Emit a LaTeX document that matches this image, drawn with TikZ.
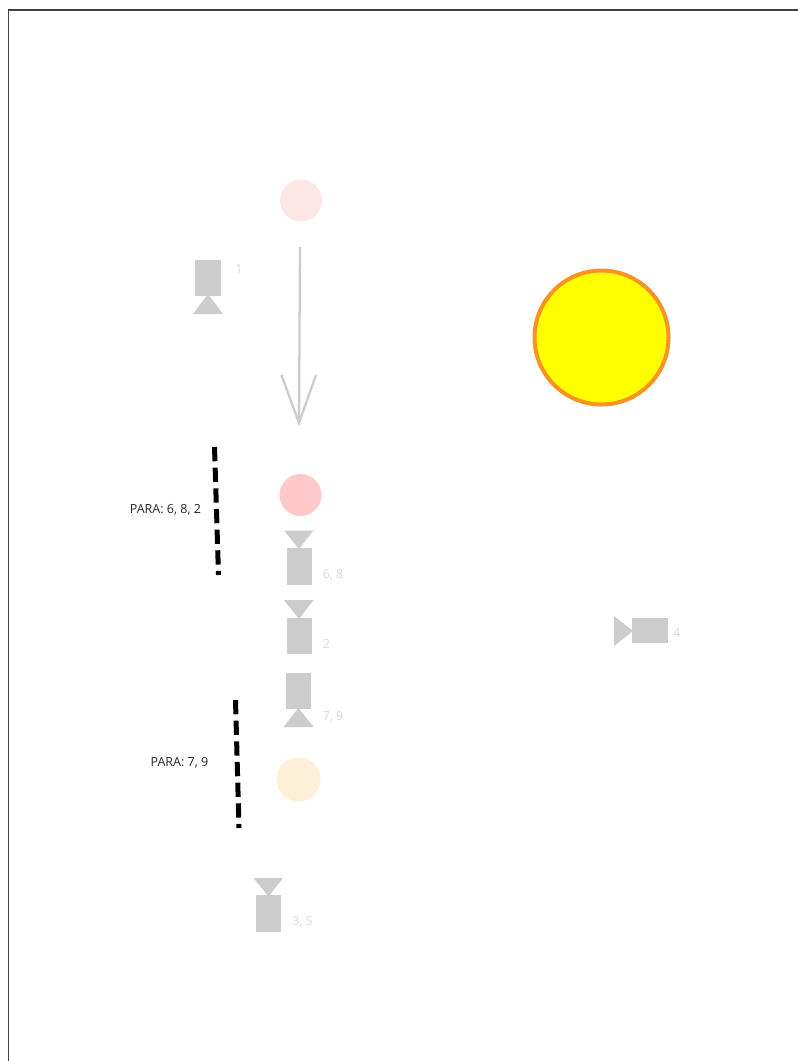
\documentclass[tikz,border=0pt]{standalone}
\usepackage{fontspec}
\setmainfont{Open Sans}
\usetikzlibrary{calc}
\definecolor{camgrey}{HTML}{CCCCCC}
\definecolor{lblgrey}{HTML}{DADADA}
\definecolor{sunline}{HTML}{F7931E}
\definecolor{sunfill}{RGB}{255,255,0}
\tikzset{
  camfill/.style={fill=camgrey,draw=none},
  numlabel/.style={text=lblgrey,font=\fontsize{9.3}{11}\selectfont,inner sep=0pt},
  paralabel/.style={text=black!85,font=\fontsize{9.4}{11}\selectfont,inner sep=0pt},
  ball/.style={circle,draw=none,inner sep=0pt,minimum size=#1},
  paraline/.style={line width=3.75pt,black,dash pattern=on 10.7pt off 4.8pt},
  motion/.style={draw=camgrey,line width=1.7pt,line join=miter}
}
\begin{document}
\begin{tikzpicture}[x=0.75pt,y=-0.75pt]
\useasboundingbox (0,0) rectangle (798,1061);
\fill[white] (0,0) rectangle (798,1061);
% page edge
\draw[line width=1pt,black!75] (8.5,1061) -- (8.5,10) -- (798,10);
% balls
\node[ball=31.5pt,fill={rgb,255:red,253;green,230;blue,230}] (ballA) at (301,200.5) {};
\node[ball=31.5pt,fill={rgb,255:red,255;green,201;blue,201}] (ballB) at (300.5,495) {};
\node[ball=33pt,fill={rgb,255:red,253;green,240;blue,216}] (ballC) at (298.5,779.5) {};
% sun
\node[circle,draw=sunline,fill=sunfill,line width=3pt,inner sep=0pt,minimum size=100.5pt] (sun) at (601.5,337.5) {};
% motion arrow
\coordinate (mstart) at (300,247);
\coordinate (mend) at (299,423);
\coordinate (mbarbL) at (281.5,375);
\coordinate (mbarbR) at (316,375);
\draw[motion] (mstart) -- (mend);
\draw[motion] (mbarbL) -- (mend) -- (mbarbR);
% cameras
\fill[camfill] (195,259.5) rectangle (221,295.5);
\fill[camfill] (208,294) -- (223,314) -- (193,314) -- cycle;
\fill[camfill] (286.5,548) rectangle (312,584.5);
\fill[camfill] (299,549) -- (284,530.5) -- (313.5,530.5) -- cycle;
\fill[camfill] (286.5,617.5) rectangle (312,654);
\fill[camfill] (299,619) -- (284,600) -- (313.5,600) -- cycle;
\fill[camfill] (286,673) rectangle (311,709);
\fill[camfill] (298.5,708) -- (313.5,727) -- (283.5,727) -- cycle;
\fill[camfill] (256,895) rectangle (281,932);
\fill[camfill] (268.5,896.5) -- (253.5,878) -- (283,878) -- cycle;
\fill[camfill] (632,618) rectangle (668,643);
\fill[camfill] (633,631) -- (614,616) -- (614,646) -- cycle;
% camera labels
\node[numlabel] (n1) at (239,269) {1};
\node[numlabel] (n68) at (333,575) {6, 8};
\node[numlabel] (n2) at (326.5,644) {2};
\node[numlabel] (n79) at (333,717) {7, 9};
\node[numlabel] (n35) at (302.5,922) {3, 5};
\node[numlabel] (n4) at (677,633) {4};
% parallel lines
\coordinate (pa) at (214.5,447);
\coordinate (pb) at (218.5,575);
\coordinate (pc) at (235.5,700);
\coordinate (pd) at (239,828);
\draw[paraline] (pa) -- (pb);
\draw[paraline] (pc) -- (pd);
\node[paralabel] (para1) at (165.5,510) {PARA: 6, 8, 2};
\node[paralabel] (para2) at (179.5,763) {PARA: 7, 9};
\end{tikzpicture}
\end{document}
